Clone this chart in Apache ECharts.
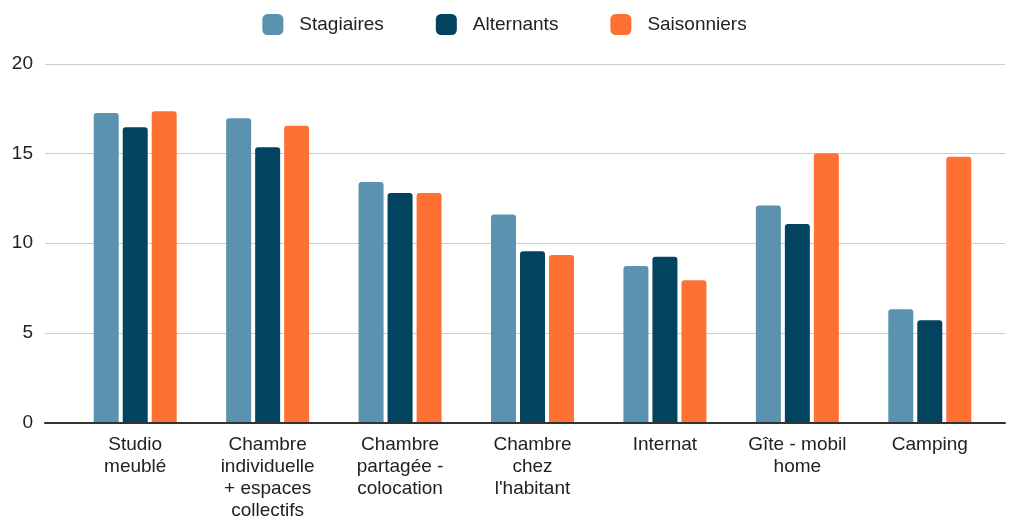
<!DOCTYPE html>
<html>
<head>
<meta charset="UTF-8">
<title>Logements</title>
<script src="https://cdn.jsdelivr.net/npm/echarts@6/dist/echarts.min.js"></script>
<style>
	html, body { margin: 0; padding: 0; background: #fff; }
	#chart { width: 1009px; height: 518px; }
</style>
</head>
<body>
<div id="chart"></div>
<script>
// categories (line breaks as in the picture)
var categories = [
	'Studio\nmeublé',
	'Chambre\nindividuelle\n+ espaces\ncollectifs',
	'Chambre\npartagée -\ncolocation',
	'Chambre\nchez\nl\'habitant',
	'Internat',
	'Gîte - mobil\nhome',
	'Camping'
];
var stagiaires  = [17.27, 16.97, 13.42, 11.6, 8.73, 12.1, 6.32];
var alternants  = [16.47, 15.36, 12.81, 9.55, 9.24, 11.08, 5.7];
var saisonniers = [17.37, 16.56, 12.81, 9.35, 7.93, 15.02, 14.83];
var yTicks = {min: 0, max: 20, interval: 5};

var font = '"Liberation Sans", Arial, sans-serif';
var chart = echarts.init(document.getElementById('chart'));

function bar(name, data, color) {
	return {
		name: name,
		type: 'bar',
		xAxisIndex: 1,
		yAxisIndex: 1,
		data: data,
		barWidth: 25,
		barGap: '16%',
		itemStyle: { color: color, borderRadius: [3, 3, 0, 0] }
	};
}

chart.setOption({
	animation: false,
	textStyle: { fontFamily: font },
	legend: {
		top: 9,
		left: 'center',
		itemWidth: 21,
		itemHeight: 21,
		itemGap: 52,
		icon: 'roundRect',
		textStyle: {
			fontSize: 19, color: '#222', fontFamily: font,
			padding: [0, 0, 0, 11]
		},
		data: ['Stagiaires', 'Alternants', 'Saisonniers']
	},
	grid: [
		// grid for gridlines / axis line (wider)
		{ left: 45, right: 4, top: 64, bottom: 95.5, outerBoundsMode: 'none' },
		// grid for the bars
		{ left: 69, right: 13, top: 64, bottom: 95.5, outerBoundsMode: 'none' }
	],
	xAxis: [
		{
			type: 'value', gridIndex: 0, min: 0, max: 1,
			axisLine: { show: true, onZero: false, lineStyle: { color: '#333', width: 2 } },
			axisTick: { show: false }, axisLabel: { show: false }, splitLine: { show: false },
			z: 5
		},
		{
			type: 'category', gridIndex: 1, data: categories,
			axisLine: { show: false }, axisTick: { show: false },
			axisLabel: {
				interval: 0, margin: 11, fontSize: 19, lineHeight: 22,
				color: '#222', fontFamily: font, align: 'center'
			}
		}
	],
	yAxis: [
		{
			type: 'value', gridIndex: 0,
			min: yTicks.min, max: yTicks.max, interval: yTicks.interval,
			axisLine: { show: false }, axisTick: { show: false },
			axisLabel: { fontSize: 19, color: '#222', margin: 12, fontFamily: font },
			splitLine: { lineStyle: { color: '#cccccc', width: 1 } }
		},
		{
			type: 'value', gridIndex: 1,
			min: yTicks.min, max: yTicks.max, interval: yTicks.interval,
			show: false, splitLine: { show: false }
		}
	],
	series: [
		bar('Stagiaires', stagiaires, '#5a92b0'),
		bar('Alternants', alternants, '#02445f'),
		bar('Saisonniers', saisonniers, '#ff7033')
	]
});
</script>
</body>
</html>
